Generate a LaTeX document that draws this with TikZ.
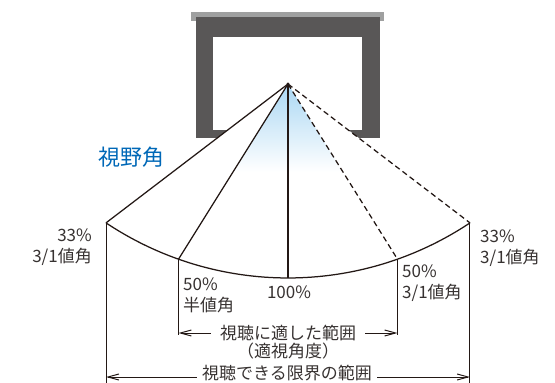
\documentclass[tikz,border=0pt]{standalone}
\usepackage{fontspec}
\setmainfont{Noto Sans CJK JP}
\usetikzlibrary{arrows.meta,calc}
\definecolor{linecol}{RGB}{35,24,21}
\definecolor{txtcol}{RGB}{55,50,49}
\definecolor{framecol}{RGB}{89,87,87}
\definecolor{barcol}{RGB}{159,160,160}
\definecolor{skyblue}{RGB}{170,215,243}
\definecolor{fovblue}{RGB}{0,104,183}
\tikzset{
  lbl/.style={inner sep=0pt, text=txtcol, font=\fontsize{17}{21}\selectfont},
  fanline/.style={linecol, line width=1.25pt},
  dimline/.style={linecol, line width=1pt},
  >={Straight Barb[length=11pt,width=6pt]}
}
\begin{document}
\begin{tikzpicture}[x=1pt,y=-1pt]
\useasboundingbox (0,0) rectangle (555,383);

% Screen frame
\fill[barcol] (191,12) rectangle (384,21);
\fill[framecol] (196,17) rectangle (380,138);
\fill[white] (213,37) rectangle (362,130);

% Viewing positions on the arc
\coordinate (apex) at (288,84);
\coordinate (ctr) at (288,-50);
\coordinate (l33) at ($(ctr)+(123.7:328)$);
\coordinate (l50) at ($(ctr)+(109.5:328)$);
\coordinate (c100) at ($(ctr)+(90:328)$);
\coordinate (r50) at ($(ctr)+(70.5:328)$);
\coordinate (r33) at ($(ctr)+(56.3:328)$);

% Field of view (covers the frame bottom)
\fill[white] (apex) -- (l33) arc[start angle=123.7, end angle=56.3, radius=328] -- cycle;
\shade[top color=skyblue, middle color=skyblue!75, bottom color=white]
  (apex) -- ($(apex)!0.5!(l50)$) -- ($(apex)!0.5!(r50)$) -- cycle;

% Rays
\draw[fanline] (apex) -- (l33);
\draw[fanline] (apex) -- (l50);
\draw[fanline] (apex) -- (c100);
\draw[fanline, dash pattern=on 5.5pt off 3.5pt] (apex) -- (r50);
\draw[fanline, dash pattern=on 5.5pt off 3.5pt] (apex) -- (r33);
\fill[linecol] (apex) circle (1.6);
\draw[fanline] (l33) arc[start angle=123.7, end angle=56.3, radius=328];

\node[font=\fontsize{22}{24}\selectfont, text=fovblue, inner sep=0pt] (fov) at (131,157) {視野角};

% Labels
\node[lbl, anchor=north east, align=right] (lbl33l) at (92,229) {33\%\\3/1値角};
\node[lbl, anchor=north west, align=left] (lbl50l) at (183,278) {50\%\\半値角};
\node[lbl, anchor=north] (lbl100) at (289,286) {100\%};
\node[lbl, anchor=north west, align=left] (lbl50r) at (402,265) {50\%\\3/1値角};
\node[lbl, anchor=north west, align=left] (lbl33r) at (480,230) {33\%\\3/1値角};

% Ranges
\coordinate (ibase) at (288,333);
\coordinate (obase) at (288,377);
\draw[dimline] (l33) -- (l33 |- 0,383);
\draw[dimline] (r33) -- (r33 |- 0,383);
\draw[dimline] (l50) -- (l50 |- 0,335);
\draw[dimline] (r50) -- (r50 |- 0,335);

\node[lbl, fill=white, inner xsep=9pt] (inner) at (ibase) {視聴に適した範囲};
\node[lbl, anchor=north] (innersub) at (288,343) {（適視角度）};
\draw[dimline, ->] (inner.west) -- (l50 |- ibase);
\draw[dimline, ->] (inner.east) -- (r50 |- ibase);

\node[lbl, anchor=north, inner xsep=5pt] (outer) at (287,365) {視聴できる限界の範囲};
\draw[dimline, ->] (outer.west |- obase) -- (l33 |- obase);
\draw[dimline, ->] (outer.east |- obase) -- (r33 |- obase);
\end{tikzpicture}
\end{document}
